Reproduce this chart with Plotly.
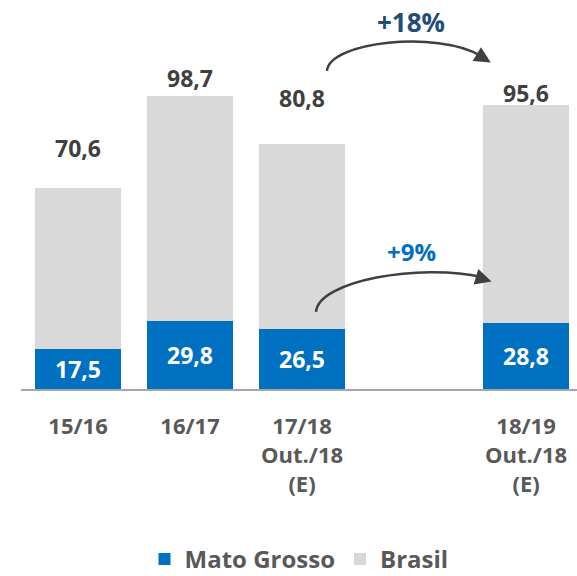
import plotly.graph_objects as go

# ---- data ----
categories = ["15/16", "16/17", "17/18<br>Out./18<br>(E)", "18/19<br>Out./18<br>(E)"]
cat_pos = [0, 1, 2, 4]
mato_grosso = [17.5, 29.8, 26.5, 28.8]
brasil = [70.6, 98.7, 80.8, 95.6]
growth_labels = ["+18%", "+9%"]

# label placement (layout only)
brasil_label_offsets = [17.6, 7.9, 20.3, 5.6]

def fmt(v):
    return f"{v:.1f}".replace(".", ",")

FONT = "Open Sans"
BLUE = "#0070C0"
GREY = "#D9D9D9"

fig = go.Figure()
fig.add_trace(go.Bar(
    x=cat_pos, y=mato_grosso, name="Mato Grosso",
    marker=dict(color=BLUE, line=dict(width=0)),
    text=[fmt(v) for v in mato_grosso],
    textposition="inside", insidetextanchor="middle",
    textfont=dict(family=FONT, size=23, color="white", weight="bold"),
    width=0.77, hoverinfo="skip",
))
fig.add_trace(go.Bar(
    x=cat_pos, y=brasil, name="Brasil",
    marker=dict(color=GREY, line=dict(width=0)),
    width=0.77, hoverinfo="skip",
))

# Brasil totals labels
totals = [m + b for m, b in zip(mato_grosso, brasil)]
for xp, t, v, off in zip(cat_pos, totals, brasil, brasil_label_offsets):
    fig.add_annotation(x=xp, y=t + off, text=fmt(v), showarrow=False,
                       xanchor="center", yanchor="middle",
                       font=dict(family=FONT, size=23, color="#404040", weight="bold"))

ARROW_COLOR = "#404040"
# +18% curved arrow
fig.add_shape(type="path", xref="x", yref="y",
              path="M2.223,139.5 C2.241,152.2 3.205,157.5 3.598,146.1",
              line=dict(color=ARROW_COLOR, width=2.5))
fig.add_annotation(x=3.685, y=143.2, ax=-10, ay=-6, showarrow=True,
                   arrowhead=2, arrowsize=1.3, arrowwidth=2.5, arrowcolor=ARROW_COLOR,
                   text="", standoff=0)
fig.add_annotation(x=2.973, y=161.0, text=growth_labels[0], showarrow=False,
                   font=dict(family=FONT, size=26, color="#1F4E79", weight="bold"))

# +9% curved arrow
fig.add_shape(type="path", xref="x", yref="y",
              path="M2.125,33.8 C2.143,47.4 3.054,55.3 3.607,49.1",
              line=dict(color=ARROW_COLOR, width=2.5))
fig.add_annotation(x=3.692, y=47.2, ax=-10, ay=-3, showarrow=True,
                   arrowhead=2, arrowsize=1.3, arrowwidth=2.5, arrowcolor=ARROW_COLOR,
                   text="", standoff=0)
fig.add_annotation(x=2.973, y=60.1, text=growth_labels[1], showarrow=False,
                   font=dict(family=FONT, size=24, color=BLUE, weight="bold"))

fig.update_layout(
    width=577, height=576,
    margin=dict(l=21, r=0, t=0, b=187, autoexpand=False),
    barmode="stack",
    bargap=0,
    separators=",.",
    paper_bgcolor="white", plot_bgcolor="white",
    showlegend=True,
    legend=dict(orientation="h", x=0.5, xanchor="center", y=-0.496, yanchor="bottom",
                font=dict(family=FONT, size=24, color="#595959", weight="bold"),
                itemwidth=30, traceorder="normal", borderwidth=0),
    xaxis=dict(range=[-0.509, 4.455], tickvals=cat_pos, ticktext=categories,
               showline=True, linecolor="#A6A6A6", linewidth=2,
               showgrid=False, zeroline=False, ticks="",
               ticklabelstandoff=17,
               tickfont=dict(family=FONT, size=22, color="#595959", weight="bold")),
    yaxis=dict(range=[0, 170.6], visible=False, showgrid=False, zeroline=False),
)

fig.write_html("out.html", config={"displayModeBar": False},
               post_script="document.body.style.margin='0';document.body.style.overflow='hidden';")
